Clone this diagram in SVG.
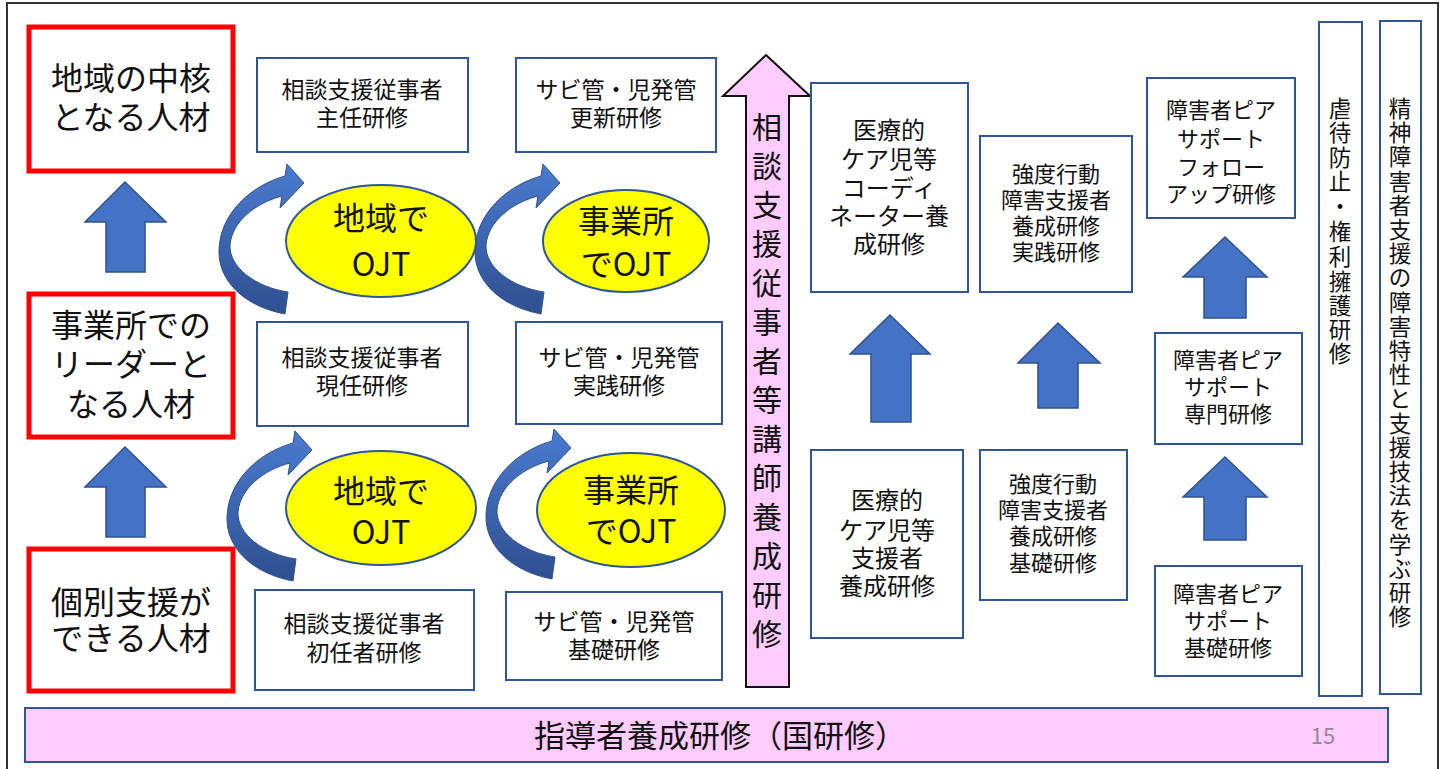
<svg xmlns="http://www.w3.org/2000/svg" width="1447" height="769" viewBox="0 0 1447 769">
<style>
text{font-family:"Noto Sans CJK JP","Noto Sans",sans-serif;fill:#111;text-anchor:middle;dominant-baseline:central}
.red{fill:#fff;stroke:#ff0000;stroke-width:5}
.box{fill:#fff;stroke:#2f5597;stroke-width:2}
.ell{fill:#ffff00;stroke:#2f5597;stroke-width:2}
.up{fill:#4472c4;stroke:#2f528f;stroke-width:1.5}
.t32{font-size:32px}
.t23{font-size:23px}
.t22{font-size:22px}
.t24{font-size:24px}
.v{font-size:22.5px}
</style>
<defs>
<linearGradient id="cg" x1="0" y1="0" x2="0" y2="1">
<stop offset="0" stop-color="#4a7bd0"/>
<stop offset="1" stop-color="#2f4f8f"/>
</linearGradient>
<path id="carrow" d="M285,314 C243,306 218,280 219,250 C220,214 250,186 285,176 L287,164 L304,183 L280,208 L282,196 C255,203 232,222 230,245 C229,267 255,287 288,292 Z" fill="url(#cg)" stroke="#2f528f" stroke-width="1"/>
</defs>
<rect x="7" y="3" width="1431" height="780" fill="#fff" stroke="#333" stroke-width="2"/>

<g id="connectors">
<polygon class="up" points="125,182 166,222 145,222 145,272 106,272 106,222 85,222"/>
<polygon class="up" points="125,447 166,487 145,487 145,537 106,537 106,487 85,487"/>
<polygon class="up" points="890,315 930,354 911,354 911,422 871,422 871,354 850,354"/>
<polygon class="up" points="1058,323 1100,363 1078,363 1078,408 1038,408 1038,363 1018,363"/>
<polygon class="up" points="1225,237 1267,277 1246,277 1246,318 1204,318 1204,277 1183,277"/>
<polygon class="up" points="1225,457 1267,497 1246,497 1246,540 1204,540 1204,497 1183,497"/>
<use href="#carrow"/>
<use href="#carrow" transform="translate(256,0)"/>
<use href="#carrow" transform="translate(8,267)"/>
<use href="#carrow" transform="translate(267,265)"/>
</g>

<g id="n-chukaku">
<rect class="red" x="29" y="27" width="204" height="144"/>
<text class="t32" x="131" y="76">地域の中核</text>
<text class="t32" x="131" y="115">となる人材</text>
</g>
<g id="n-leader">
<rect class="red" x="29" y="294" width="204" height="143"/>
<text class="t32" x="131" y="323">事業所での</text>
<text class="t32" x="131" y="362">リーダーと</text>
<text class="t32" x="131" y="402">なる人材</text>
</g>
<g id="n-kobetsu">
<rect class="red" x="29" y="549" width="204" height="142"/>
<text class="t32" x="131" y="600">個別支援が</text>
<text class="t32" x="131" y="636">できる人材</text>
</g>

<g id="n-shunin">
<rect class="box" x="257" y="58" width="211" height="94"/>
<text class="t23" x="362" y="88">相談支援従事者</text>
<text class="t23" x="362" y="116">主任研修</text>
</g>
<g id="n-koshin">
<rect class="box" x="516" y="58" width="200" height="94"/>
<text class="t23" x="616" y="88">サビ管・児発管</text>
<text class="t23" x="616" y="116">更新研修</text>
</g>
<g id="n-genin">
<rect class="box" x="257" y="322" width="211" height="104"/>
<text class="t23" x="362" y="356">相談支援従事者</text>
<text class="t23" x="362" y="384">現任研修</text>
</g>
<g id="n-jissen">
<rect class="box" x="516" y="322" width="206" height="102"/>
<text class="t23" x="619" y="356">サビ管・児発管</text>
<text class="t23" x="619" y="384">実践研修</text>
</g>
<g id="n-shoninsha">
<rect class="box" x="255" y="590" width="219" height="100"/>
<text class="t23" x="364" y="622">相談支援従事者</text>
<text class="t23" x="364" y="651">初任者研修</text>
</g>
<g id="n-kiso">
<rect class="box" x="506" y="592" width="216" height="88"/>
<text class="t23" x="614" y="620">サビ管・児発管</text>
<text class="t23" x="614" y="648">基礎研修</text>
</g>

<g id="n-ojt1">
<ellipse class="ell" cx="381" cy="241" rx="95" ry="56"/>
<text class="t32" x="381" y="216">地域で</text>
<text class="t32" x="381" y="262">OJT</text>
</g>
<g id="n-ojt2">
<ellipse class="ell" cx="626" cy="241" rx="83" ry="51"/>
<text class="t32" x="626" y="219">事業所</text>
<text class="t32" x="626" y="262">でOJT</text>
</g>
<g id="n-ojt3">
<ellipse class="ell" cx="381" cy="508" rx="95" ry="57"/>
<text class="t32" x="381" y="489">地域で</text>
<text class="t32" x="381" y="530">OJT</text>
</g>
<g id="n-ojt4">
<ellipse class="ell" cx="631" cy="510" rx="94" ry="57"/>
<text class="t32" x="631" y="488">事業所</text>
<text class="t32" x="631" y="529">でOJT</text>
</g>

<g id="n-koshi">
<polygon points="766,55 810,96 789,96 789,687 746,687 746,96 723,96" fill="#ffccff" stroke="#111" stroke-width="2"/>
<text style="font-size:30px"><tspan x="767" y="125">相</tspan><tspan x="767" y="164">談</tspan><tspan x="767" y="203">支</tspan><tspan x="767" y="242">援</tspan><tspan x="767" y="281">従</tspan><tspan x="767" y="320">事</tspan><tspan x="767" y="359">者</tspan><tspan x="767" y="398">等</tspan><tspan x="767" y="437">講</tspan><tspan x="767" y="476">師</tspan><tspan x="767" y="515">養</tspan><tspan x="767" y="554">成</tspan><tspan x="767" y="593">研</tspan><tspan x="767" y="632">修</tspan></text>
</g>

<g id="n-iryo-coord">
<rect class="box" x="811" y="83" width="157" height="209"/>
<text class="t24" x="889" y="128">医療的</text>
<text class="t24" x="889" y="157">ケア児等</text>
<text class="t24" x="889" y="186">コーディ</text>
<text class="t24" x="889" y="214">ネーター養</text>
<text class="t24" x="889" y="242">成研修</text>
</g>
<g id="n-kyodo-jissen">
<rect class="box" x="980" y="136" width="152" height="156"/>
<text class="t22" x="1056" y="172">強度行動</text>
<text class="t22" x="1056" y="198">障害支援者</text>
<text class="t22" x="1056" y="224">養成研修</text>
<text class="t22" x="1056" y="250">実践研修</text>
</g>
<g id="n-iryo-shien">
<rect class="box" x="811" y="450" width="152" height="188"/>
<text class="t24" x="887" y="498">医療的</text>
<text class="t24" x="887" y="528">ケア児等</text>
<text class="t24" x="887" y="556">支援者</text>
<text class="t24" x="887" y="584">養成研修</text>
</g>
<g id="n-kyodo-kiso">
<rect class="box" x="980" y="450" width="147" height="150"/>
<text class="t22" x="1053" y="482">強度行動</text>
<text class="t22" x="1053" y="508">障害支援者</text>
<text class="t22" x="1053" y="534">養成研修</text>
<text class="t22" x="1053" y="561">基礎研修</text>
</g>

<g id="n-peer-follow">
<rect class="box" x="1147" y="78" width="148" height="140"/>
<text class="t22" x="1221" y="108">障害者ピア</text>
<text class="t22" x="1221" y="137">サポート</text>
<text class="t22" x="1221" y="165">フォロー</text>
<text class="t22" x="1221" y="192">アップ研修</text>
</g>
<g id="n-peer-senmon">
<rect class="box" x="1155" y="333" width="147" height="111"/>
<text class="t22" x="1228" y="358">障害者ピア</text>
<text class="t22" x="1228" y="385">サポート</text>
<text class="t22" x="1228" y="412">専門研修</text>
</g>
<g id="n-peer-kiso">
<rect class="box" x="1155" y="566" width="147" height="110"/>
<text class="t22" x="1228" y="592">障害者ピア</text>
<text class="t22" x="1228" y="619">サポート</text>
<text class="t22" x="1228" y="646">基礎研修</text>
</g>

<g id="n-gyakutai">
<rect class="box" x="1319" y="22" width="43" height="674"/>
<text class="v"><tspan x="1340" y="107">虐</tspan><tspan x="1340" y="131">待</tspan><tspan x="1340" y="156">防</tspan><tspan x="1340" y="180">止</tspan><tspan x="1340" y="205">・</tspan><tspan x="1340" y="230">権</tspan><tspan x="1340" y="255">利</tspan><tspan x="1340" y="280">擁</tspan><tspan x="1340" y="304">護</tspan><tspan x="1340" y="328">研</tspan><tspan x="1340" y="352">修</tspan></text>
</g>
<g id="n-seishin">
<rect class="box" x="1380" y="21" width="41" height="673"/>
<text class="v"><tspan x="1400" y="107">精</tspan><tspan x="1400" y="131">神</tspan><tspan x="1400" y="155">障</tspan><tspan x="1400" y="180">害</tspan><tspan x="1400" y="204">者</tspan><tspan x="1400" y="228">支</tspan><tspan x="1400" y="252">援</tspan><tspan x="1400" y="276">の</tspan><tspan x="1400" y="301">障</tspan><tspan x="1400" y="325">害</tspan><tspan x="1400" y="349">特</tspan><tspan x="1400" y="373">性</tspan><tspan x="1400" y="397">と</tspan><tspan x="1400" y="422">支</tspan><tspan x="1400" y="446">援</tspan><tspan x="1400" y="470">技</tspan><tspan x="1400" y="494">法</tspan><tspan x="1400" y="518">を</tspan><tspan x="1400" y="543">学</tspan><tspan x="1400" y="567">ぶ</tspan><tspan x="1400" y="591">研</tspan><tspan x="1400" y="615">修</tspan></text>
</g>

<g id="n-shidosha">
<rect x="25" y="708" width="1363" height="54" fill="#ffccff" stroke="#2f5597" stroke-width="2"/>
<text x="720" y="733" style="font-size:31px">指導者養成研修（国研修）</text>
<text x="1323" y="734" style="font-size:22px;fill:#8c8c8c">15</text>
</g>
</svg>
